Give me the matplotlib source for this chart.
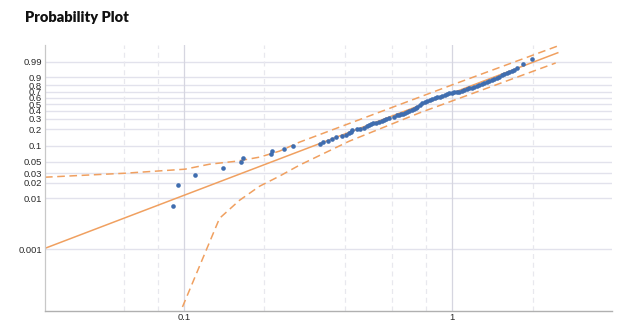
import matplotlib
matplotlib.use('Agg')
import matplotlib.pyplot as plt
import numpy as np
from matplotlib import font_manager

# ---- data ----
obs_x = [0.0910, 0.0950, 0.110, 0.1396, 0.163, 0.167, 0.2124, 0.2142, 0.2373, 0.2565,
         0.323, 0.331, 0.345, 0.358, 0.371, 0.388, 0.404, 0.414, 0.421, 0.425,
         0.444, 0.455, 0.471, 0.483, 0.490, 0.500, 0.508, 0.520, 0.535, 0.549,
         0.558, 0.568, 0.583, 0.608, 0.625, 0.636, 0.646, 0.657, 0.668, 0.680,
         0.692, 0.707, 0.723, 0.732, 0.741, 0.760, 0.774, 0.790, 0.807, 0.825,
         0.843, 0.861, 0.880, 0.899, 0.918, 0.938, 0.958, 0.979, 1.000, 1.022,
         1.044, 1.066, 1.089, 1.113, 1.137, 1.162, 1.187, 1.213, 1.239, 1.266,
         1.293, 1.321, 1.349, 1.379, 1.409, 1.440, 1.470, 1.502, 1.534, 1.567,
         1.601, 1.636, 1.671, 1.708, 1.745, 1.836, 1.984]
obs_p = [0.00694, 0.0178, 0.0278, 0.0379, 0.0493, 0.0588, 0.070, 0.0798, 0.087, 0.099,
         0.108, 0.117, 0.125, 0.133, 0.145, 0.151, 0.157, 0.171, 0.178, 0.193,
         0.201, 0.205, 0.209, 0.226, 0.236, 0.245, 0.255, 0.260, 0.265, 0.275,
         0.286, 0.297, 0.308, 0.320, 0.344, 0.350, 0.357, 0.363, 0.369, 0.383,
         0.397, 0.411, 0.425, 0.440, 0.454, 0.490, 0.516, 0.532, 0.548, 0.564,
         0.580, 0.596, 0.613, 0.621, 0.630, 0.647, 0.663, 0.672, 0.680, 0.688,
         0.696, 0.704, 0.712, 0.728, 0.744, 0.752, 0.759, 0.775, 0.790, 0.805,
         0.819, 0.833, 0.846, 0.858, 0.870, 0.882, 0.893, 0.908, 0.923, 0.931,
         0.939, 0.946, 0.953, 0.962, 0.970, 0.985, 0.9949]

fit_x = [0.03, 2.48]
fit_p = [0.00102, 0.99905]

upper_x = [0.0304, 0.0604, 0.101, 0.125, 0.1574, 0.1918, 0.2275, 0.270, 1.0, 2.478]
upper_p = [0.0254, 0.0303, 0.0362, 0.0452, 0.0515, 0.0615, 0.0798, 0.117, 0.805, 0.99992]

lower_x = [0.095, 0.136, 0.1615, 0.1918, 0.2275, 0.270, 0.414, 0.754, 1.0, 2.436]
lower_p = [4.5e-5, 0.00404, 0.00907, 0.0170, 0.0266, 0.0432, 0.122, 0.370, 0.548, 0.9877]

ytick_p = [0.001, 0.01, 0.02, 0.03, 0.05, 0.1, 0.2, 0.3, 0.4, 0.5, 0.6, 0.7, 0.8, 0.9, 0.99]
ytick_labels = ['0.001', '0.01', '0.02', '0.03', '0.05', '0.1', '0.2', '0.3', '0.4',
                '0.5', '0.6', '0.7', '0.8', '0.9', '0.99']
xgrid_major = [0.1, 1]
xgrid_minor = [0.06, 0.08, 0.2, 0.4, 0.6, 0.8, 2, 4]


def wb(p):
    # weibull probability paper transform
    p = np.asarray(p, dtype=float)
    return np.log(-np.log(1.0 - p))


names = {f.name for f in font_manager.fontManager.ttflist}
tick_font = 'Liberation Sans Narrow' if 'Liberation Sans Narrow' in names else 'Liberation Sans'

ORANGE = '#F0A060'
BLUE = '#3F6DAF'
GRID = '#E2E2EC'

fig = plt.figure(figsize=(6.24, 3.24), dpi=100)
ax = fig.add_axes([45 / 624, 1 - 310.5 / 324, (612 - 45) / 624, (310.5 - 45) / 324])
ax.set_xscale('log')
ax.set_xlim(0.0304, 3.95)
ax.set_ylim(-9.66, 2.29)

# grid
for p in ytick_p:
    ax.axhline(wb(p), color=GRID, lw=1.0, zorder=0)
for v in xgrid_major:
    ax.axvline(v, color='#D6D6E0', lw=0.9, zorder=0)
for v in xgrid_minor:
    ax.axvline(v, color='#E8E8EE', lw=0.9, ls=(0, (4, 3)), zorder=0)

ax.plot(fit_x, wb(fit_p), color=ORANGE, lw=1.1, zorder=2)
ax.plot(upper_x, wb(upper_p), color=ORANGE, lw=1.1, ls=(0, (5, 3)), zorder=2)
ax.plot(lower_x, wb(lower_p), color=ORANGE, lw=1.1, ls=(0, (5, 3)), zorder=2)
ax.scatter(obs_x, wb(obs_p), s=11, color=BLUE, linewidths=0, zorder=3)

ax.set_yticks(wb(ytick_p))
ax.set_yticklabels(ytick_labels)
ax.set_xticks(xgrid_major)
ax.set_xticklabels(['0.1', '1'])
ax.minorticks_off()
ax.tick_params(length=0, pad=2, labelsize=6.8, labelcolor='#2a2a2a')
for lab in ax.get_xticklabels() + ax.get_yticklabels():
    lab.set_family(tick_font)

for s in ['top', 'right']:
    ax.spines[s].set_visible(False)
ax.spines['left'].set_color('#C8C8C8')
ax.spines['bottom'].set_color('#B0B0B0')
ax.spines['left'].set_linewidth(0.9)
ax.spines['bottom'].set_linewidth(1.0)

fig.text(25 / 624, 1 - 18 / 324, 'Probability Plot', fontsize=10.5, fontweight='heavy',
         family='Lato', va='center', ha='left', color='#111111')

fig.savefig('out.png', dpi=100)
